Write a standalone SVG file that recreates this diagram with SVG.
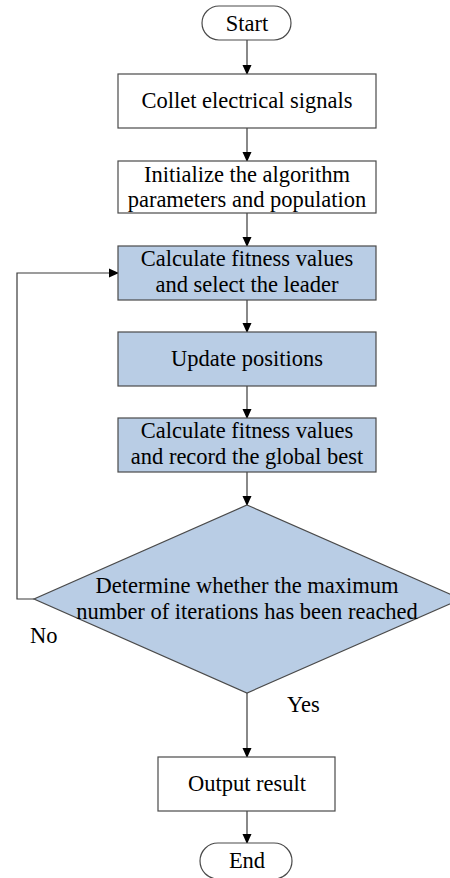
<svg xmlns="http://www.w3.org/2000/svg" width="450" height="878" viewBox="0 0 450 878">
<defs>
<marker id="arr" markerWidth="10" markerHeight="10" refX="9" refY="5" orient="auto" markerUnits="userSpaceOnUse">
<path d="M0,0.5 L10,5 L0,9.5 Z" fill="#000"/>
</marker>
</defs>
<style>
.box{fill:#fff;stroke:#4a4a4a;stroke-width:1.2}
.blue{fill:#B9CDE5;stroke:#4a4a4a;stroke-width:1.2}
.t{font-size:22.5px;fill:#000;text-anchor:middle}
.lbl{font-size:22.5px;fill:#000}
.ln{fill:none;stroke:#3a3a3a;stroke-width:1.2}
</style>
<rect width="450" height="878" fill="#fff"/>
<g font-family="Liberation Serif, Times New Roman, serif">
<g id="connectors">
<line class="ln" x1="247" y1="40" x2="247" y2="74" marker-end="url(#arr)"/>
<line class="ln" x1="247" y1="128" x2="247" y2="161" marker-end="url(#arr)"/>
<line class="ln" x1="247" y1="213" x2="247" y2="246" marker-end="url(#arr)"/>
<line class="ln" x1="247" y1="300" x2="247" y2="332" marker-end="url(#arr)"/>
<line class="ln" x1="247" y1="386" x2="247" y2="418" marker-end="url(#arr)"/>
<line class="ln" x1="247" y1="472" x2="247" y2="505" marker-end="url(#arr)"/>
<line class="ln" x1="247" y1="693" x2="247" y2="757" marker-end="url(#arr)"/>
<line class="ln" x1="247" y1="811" x2="247" y2="843" marker-end="url(#arr)"/>
<polyline class="ln" points="34,599 17,599 17,273 118,273" marker-end="url(#arr)"/>
<text class="lbl" x="30" y="643">No</text>
<text class="lbl" x="287" y="712">Yes</text>
</g>
<g id="start">
<rect class="box" x="202" y="6" width="89" height="34" rx="17" ry="17"/>
<text class="t" x="247" y="31">Start</text>
</g>
<g id="collect">
<rect class="box" x="118" y="74" width="258" height="54"/>
<text class="t" x="247" y="108">Collet electrical signals</text>
</g>
<g id="init">
<rect class="box" x="118" y="161" width="258" height="52"/>
<text class="t" x="247" y="182">Initialize the algorithm</text>
<text class="t" x="247" y="207">parameters and population</text>
</g>
<g id="fitness1">
<rect class="blue" x="118" y="246" width="258" height="54"/>
<text class="t" x="247" y="266">Calculate fitness values</text>
<text class="t" x="247" y="292">and select the leader</text>
</g>
<g id="update">
<rect class="blue" x="118" y="332" width="258" height="54"/>
<text class="t" x="247" y="366">Update positions</text>
</g>
<g id="fitness2">
<rect class="blue" x="118" y="418" width="258" height="54"/>
<text class="t" x="247" y="438">Calculate fitness values</text>
<text class="t" x="247" y="464">and record the global best</text>
</g>
<g id="decision">
<polygon class="blue" points="247,505 461,599 247,693 34,599"/>
<text class="t" x="247" y="593">Determine whether the maximum</text>
<text class="t" x="247" y="619">number of iterations has been reached</text>
</g>
<g id="output">
<rect class="box" x="158" y="757" width="177" height="54"/>
<text class="t" x="247" y="791">Output result</text>
</g>
<g id="end">
<rect class="box" x="200" y="843" width="92" height="36" rx="18" ry="18"/>
<text class="t" x="247" y="868">End</text>
</g>
</g>
</svg>
